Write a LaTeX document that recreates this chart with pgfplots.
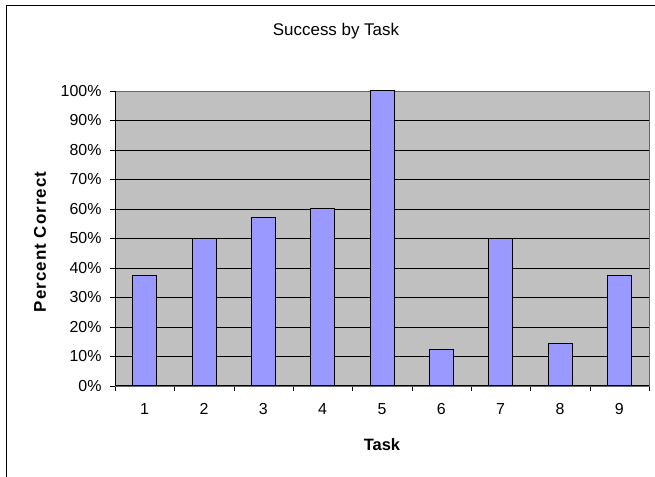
\documentclass[border=0pt]{standalone}
\usepackage{pgfplots}
\pgfplotsset{compat=1.18}
\usepackage{fontspec}
\setmainfont{Liberation Sans}
\definecolor{plotbg}{HTML}{C0C0C0}
\definecolor{barfill}{HTML}{9999FF}
\begin{document}
\begin{tikzpicture}[x=1bp,y=1bp]
\useasboundingbox (0,0) rectangle (655,477);
\fill[white] (0,0) rectangle (655,477);
\draw[black,line width=1bp] (6,0) -- (6,471) -- (655,471);
\node[font=\fontsize{17}{20}\selectfont] at (336,445.5) {Success by Task};
\node[font=\fontsize{16.5}{20}\selectfont\bfseries] at (382,32.5) {Task};
\node[font=\fontsize{17}{20}\selectfont\bfseries\addfontfeature{LetterSpace=6}, rotate=90] at (40,235) {Percent Correct};
\begin{axis}[
  at={(115bp,91bp)}, anchor=south west,
  scale only axis, width=534bp, height=295bp,
  xmin=0.5, xmax=9.5, ymin=0, ymax=100,
  axis background/.style={fill=plotbg},
  axis line style={draw=gray!80!black},
  xtick={1,...,9},
  minor xtick={0.5,1.5,...,9.5},
  ytick={0,10,...,100},
  yticklabel={\pgfmathprintnumber{\tick}\%},
  /pgf/number format/assume math mode=true,
  tick label style={font=\fontsize{16}{19}\selectfont},
  tick pos=left,
  xtick style={draw=none},
  minor x tick style={draw=black},
  minor tick length=5bp,
  ytick style={draw=black},
  major tick length=5bp,
  tick align=outside,
  ymajorgrids,
  grid style={black, line width=0.8bp},
  xticklabel style={yshift=-9bp},
  yticklabel style={xshift=-5bp},
  clip=false,
]
\addplot[ybar, bar width=24bp, fill=barfill, draw=black, line width=1bp] coordinates {
(1,37.5) (2,50) (3,57.1) (4,60) (5,100) (6,12.5) (7,50) (8,14.3) (9,37.5)
};
\draw[black,line width=1bp] (rel axis cs:0,1) -- (rel axis cs:0,0) -- (rel axis cs:1,0);
\end{axis}
\end{tikzpicture}
\end{document}
